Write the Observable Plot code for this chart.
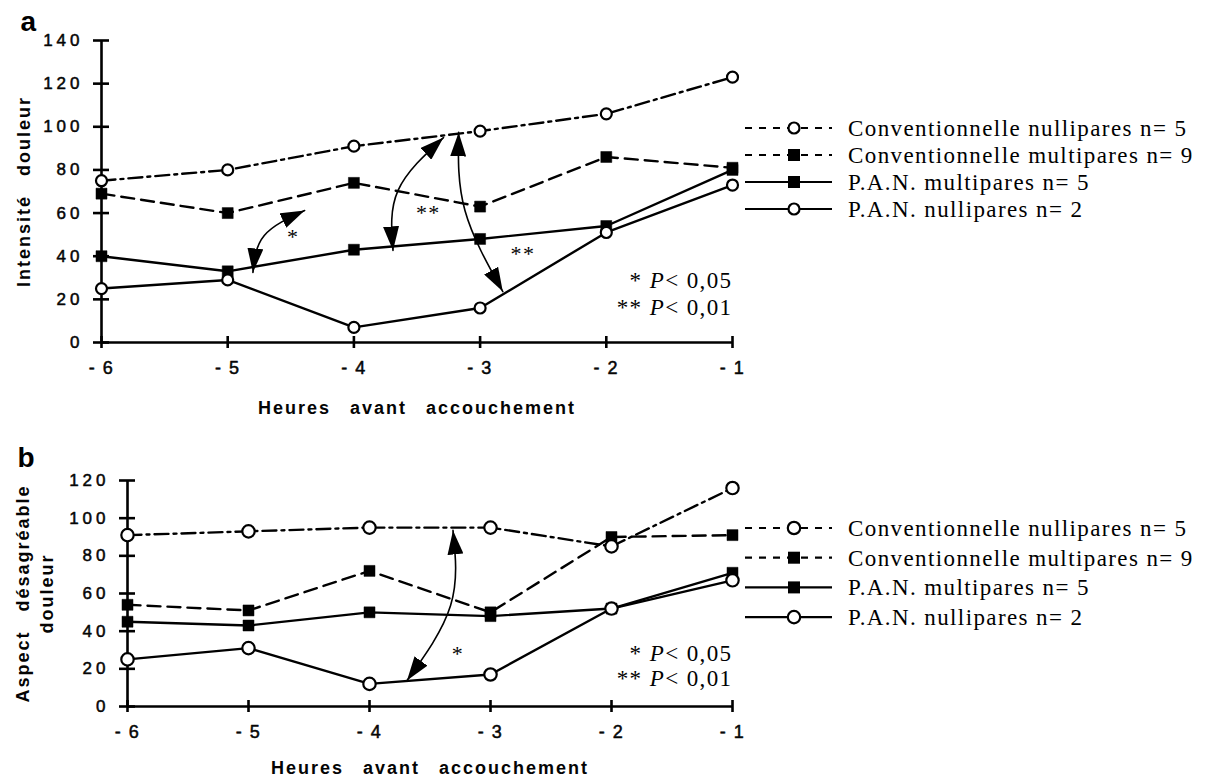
<!DOCTYPE html>
<html>
<head>
<meta charset="utf-8">
<script src="https://cdn.jsdelivr.net/npm/d3@7"></script>
<script src="https://cdn.jsdelivr.net/npm/@observablehq/plot@0.6"></script>
<style>
  body { margin: 0; background: #fff; }
  #chart { position: relative; width: 1205px; height: 779px; background: #fff; }
  #chart svg { position: absolute; left: 0; overflow: visible; }
</style>
</head>
<body>
<div id="chart"></div>
<script>
// Hours before delivery and their printed tick labels
const hours = [-6, -5, -4, -3, -2, -1];
const hourLabels = ["- 6", "- 5", "- 4", "- 3", "- 2", "- 1"];

// The four groups (legend order)
const seriesNames = [
  "Conventionnelle nullipares n= 5",
  "Conventionnelle multipares n= 9",
  "P.A.N. multipares n= 5",
  "P.A.N. nullipares n= 2"
];
const seriesDash = ["14,5,3,5", "13,7", null, null];
const seriesSymbol = ["circle", "square", "square", "circle"];

// Panel a: pain intensity
const intensiteConvNulli = [75, 80, 91, 98, 106, 123];
const intensiteConvMulti = [69, 60, 74, 63, 86, 81];
const intensitePanMulti  = [40, 33, 43, 48, 54, 80];
const intensitePanNulli  = [25, 29, 7, 16, 51, 73];
const intensiteTicks = [0, 20, 40, 60, 80, 100, 120, 140];

// Panel b: unpleasantness of pain
const aspectConvNulli = [91, 93, 95, 95, 85, 116];
const aspectConvMulti = [54, 51, 72, 50, 90, 91];
const aspectPanMulti  = [45, 43, 50, 48, 52, 71];
const aspectPanNulli  = [25, 31, 12, 17, 52, 67];
const aspectTicks = [0, 20, 40, 60, 80, 100, 120];

// Significance arrows (curved, double headed) and their stars
const arrowsA = [
  {id: 1, pts: [[-4.80, 32.5], [-4.71, 49.6], [-4.39, 61.2]]},
  {id: 2, pts: [[-3.69, 42.7], [-3.65, 70.5], [-3.29, 95.0]]},
  {id: 3, pts: [[-3.17, 97.4], [-3.12, 61.2], [-2.82, 23.6]]}
];
const starsA = [
  {x: -4.48, y: 49, label: "*"},
  {x: -3.41, y: 60, label: "**"},
  {x: -2.66, y: 41, label: "**"}
];
const arrowsB = [
  {id: 1, pts: [[-3.31, 93.5], [-3.33, 53.6], [-3.69, 13.8]]}
];
const starsB = [
  {x: -3.27, y: 28, label: "*"}
];
const pNotesA = [
  {x: -1, y: 28.7, label: "* P< 0,05"},
  {x: -1, y: 16.2, label: "** P< 0,01"}
];
const pNotesB = [
  {x: -1, y: 28, label: "* P< 0,05"},
  {x: -1, y: 15, label: "** P< 0,01"}
];

const xTitle = "Heures avant accouchement";
const SERIF = "Liberation Serif, Times New Roman, serif";
const SANS = "Liberation Sans, Arial, Helvetica, sans-serif";

// near-black tags so each group of marks can be found again after rendering
const TAG = {
  arrow: "#010101", pnote: "#020202", star: "#030303",
  title: "#040404", ytick: "#050505", xtick: "#060606"
};

function panel(cfg) {
  const rows = seriesNames.flatMap((name, i) =>
    hours.map((h, j) => ({series: name, idx: i, hour: h, value: cfg.values[i][j]})));
  const arrowRows = cfg.arrows.flatMap(a => a.pts.map(([x, y]) => ({id: a.id, x, y})));

  const lineMarks = seriesNames.map((name, i) =>
    Plot.line(rows.filter(d => d.idx === i), {
      x: "hour", y: "value", stroke: "black", strokeWidth: 2.4,
      strokeDasharray: seriesDash[i] || undefined
    }));

  const svg = Plot.plot({
    width: 1205,
    height: cfg.height,
    marginLeft: cfg.marginLeft,
    marginRight: 473,
    marginTop: cfg.marginTop,
    marginBottom: cfg.marginBottom,
    style: {fontFamily: SANS, fontSize: "17px", color: "black", background: "white", overflow: "visible"},
    x: {domain: [-6, -1]},
    y: {domain: [0, cfg.yMax]},
    marks: [
      // axes: lines and crossing ticks
      Plot.ruleX([-6], {y1: 0, y2: cfg.yMax, strokeWidth: 2.6}),
      Plot.ruleY([0], {x1: -6, x2: -1, strokeWidth: 2.6}),
      Plot.axisY(cfg.yTicks, {tickSize: 16, dx: 8, text: null, strokeWidth: 2.6, label: null}),
      Plot.axisX(hours, {tickSize: 12, dy: -6, text: null, strokeWidth: 2.6, label: null}),
      // tick labels
      Plot.text(cfg.yTicks, {y: d => d, frameAnchor: "left", dx: -18, textAnchor: "end",
        fontSize: 17, fill: TAG.ytick, stroke: TAG.ytick, strokeWidth: 0.5}),
      Plot.text(hours, {x: d => d, frameAnchor: "bottom", dy: 31, text: d => hourLabels[hours.indexOf(d)],
        fontSize: 18, fill: TAG.xtick, stroke: TAG.xtick, strokeWidth: 0.5}),
      // series
      ...lineMarks,
      Plot.dot(rows.filter(d => seriesSymbol[d.idx] === "square"), {
        x: "hour", y: "value", symbol: "square", r: 6.2, fill: "black", stroke: "black", strokeWidth: 0.5
      }),
      Plot.dot(rows.filter(d => seriesSymbol[d.idx] === "circle"), {
        x: "hour", y: "value", r: cfg.circleR, fill: "white", stroke: "black", strokeWidth: 2.2
      }),
      // significance annotations
      Plot.line(arrowRows, {x: "x", y: "y", z: "id", curve: "natural", stroke: TAG.arrow, strokeWidth: 1.6}),
      Plot.text(cfg.stars, {x: "x", y: "y", text: "label", fontFamily: SERIF, fontSize: 22, fill: TAG.star}),
      Plot.text(cfg.pNotes, {x: "x", y: "y", text: "label", textAnchor: "end", fontFamily: SERIF, fontSize: 23, fill: TAG.pnote}),
      // titles
      Plot.text([xTitle], {frameAnchor: "bottom", dy: cfg.xTitleDy, textAnchor: "middle", lineAnchor: "middle",
        fontWeight: "bold", fontSize: 18, fill: TAG.title}),
      Plot.text([cfg.yTitle], {frameAnchor: "left", dx: cfg.yTitleDx, rotate: -90, textAnchor: "middle", lineAnchor: "middle",
        fontWeight: "bold", fontSize: 18, lineHeight: 1.3, fill: TAG.title}),
      Plot.text([cfg.letter], {frameAnchor: "top-left", textAnchor: "start", lineAnchor: "middle",
        dx: cfg.letterDx, dy: cfg.letterDy, fontWeight: "bold", fontSize: 28})
    ]
  });

  const root = d3.select(svg);
  const tagged = c => root.selectAll(`g[fill="${c}"] text`);

  // filled arrow heads on both ends of each curved arrow
  const mid = "head-" + cfg.letter;
  root.append("defs").append("marker")
    .attr("id", mid)
    .attr("markerUnits", "userSpaceOnUse")
    .attr("markerWidth", 25).attr("markerHeight", 16)
    .attr("refX", 24).attr("refY", 8)
    .attr("orient", "auto-start-reverse")
    .append("path").attr("d", "M0,0L24,8L0,16Z").attr("fill", "black");
  root.selectAll(`g[stroke="${TAG.arrow}"] path`)
    .attr("marker-start", `url(#${mid})`)
    .attr("marker-end", `url(#${mid})`);

  // letter spacing of the typefaces
  tagged(TAG.ytick).style("letter-spacing", "4px");
  tagged(TAG.xtick).style("letter-spacing", "1.5px");
  tagged(TAG.title).style("letter-spacing", "2px").style("word-spacing", "12px");
  tagged(TAG.star).style("letter-spacing", "1.4px");

  // italic P in the significance notes
  tagged(TAG.pnote).style("letter-spacing", "1.4px").each(function () {
    const t = d3.select(this);
    const s = t.text();
    const k = s.indexOf("P");
    t.text(null);
    t.append("tspan").text(s.slice(0, k));
    t.append("tspan").attr("font-style", "italic").text("P");
    t.append("tspan").text(s.slice(k + 1));
  });

  // legend
  const lg = root.append("g").attr("class", "legend");
  seriesNames.forEach((name, i) => {
    const y = cfg.legendY0 + i * cfg.legendDy;
    lg.append("line")
      .attr("x1", 745).attr("x2", 832).attr("y1", y).attr("y2", y)
      .attr("stroke", "black").attr("stroke-width", 2.2)
      .attr("stroke-dasharray", seriesDash[i] ? "7,7" : null);
    if (seriesSymbol[i] === "circle") {
      lg.append("circle").attr("cx", 794).attr("cy", y).attr("r", cfg.circleR)
        .attr("fill", "white").attr("stroke", "black").attr("stroke-width", 2.2);
    } else {
      lg.append("rect").attr("x", 788).attr("y", y - 6).attr("width", 12).attr("height", 12).attr("fill", "black");
    }
    lg.append("text")
      .attr("x", 848).attr("y", y).attr("dy", "0.35em")
      .attr("text-anchor", "start")
      .attr("font-family", SERIF).attr("font-size", 23)
      .style("letter-spacing", "1.4px")
      .text(name);
  });
  return svg;
}

const chart = document.getElementById("chart");

const svgA = panel({
  letter: "a",
  values: [intensiteConvNulli, intensiteConvMulti, intensitePanMulti, intensitePanNulli],
  yMax: 140, yTicks: intensiteTicks, yTitle: "Intensité douleur",
  height: 420, marginLeft: 101, marginTop: 40, marginBottom: 78,
  xTitleDy: 66, yTitleDx: -79, letterDx: -81, letterDy: -18,
  arrows: arrowsA, stars: starsA, pNotes: pNotesA,
  circleR: 5.5, legendY0: 128, legendDy: 27
});
svgA.style.top = "0px";
chart.appendChild(svgA);

const svgB = panel({
  letter: "b",
  values: [aspectConvNulli, aspectConvMulti, aspectPanMulti, aspectPanNulli],
  yMax: 120, yTicks: aspectTicks, yTitle: "Aspect désagréable\ndouleur",
  height: 359, marginLeft: 127, marginTop: 60, marginBottom: 73,
  xTitleDy: 62, yTitleDx: -94, letterDx: -110, letterDy: -22,
  arrows: arrowsB, stars: starsB, pNotes: pNotesB,
  circleR: 6.2, legendY0: 108, legendDy: 29.7
});
svgB.style.top = "420px";
chart.appendChild(svgB);
</script>
</body>
</html>
